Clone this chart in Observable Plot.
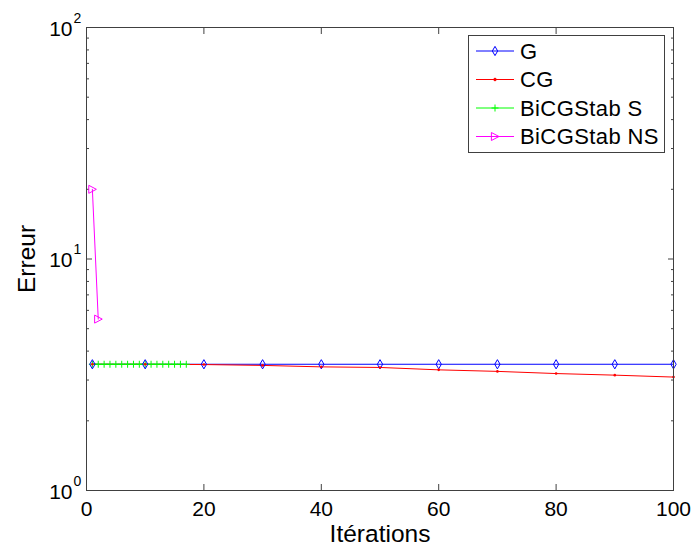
<!DOCTYPE html>
<html>
<head>
<meta charset="utf-8">
<script src="https://cdn.jsdelivr.net/npm/d3@7"></script>
<script src="https://cdn.jsdelivr.net/npm/@observablehq/plot@0.6"></script>
<style>
  html, body { margin: 0; padding: 0; background: #fff; }
  svg { font-family: "Liberation Sans", Arial, sans-serif; }
</style>
</head>
<body>
<div id="chart"></div>
<script>
// ---- data ----
const seriesNames = ["G", "CG", "BiCGStab S", "BiCGStab NS"];
const seriesColors = ["#0000ff", "#ff0000", "#00ff00", "#ff00ff"];

const gIter = [1, 10, 20, 30, 40, 50, 60, 70, 80, 90, 100];
const gErr  = [3.51, 3.51, 3.51, 3.51, 3.51, 3.51, 3.51, 3.51, 3.51, 3.51, 3.51];

const cgIter = [1, 10, 20, 30, 40, 50, 60, 70, 80, 90, 100];
const cgErr  = [3.51, 3.51, 3.50, 3.47, 3.42, 3.40, 3.32, 3.27, 3.20, 3.15, 3.09];

const bsIter = [1, 2, 3, 4, 5, 6, 7, 8, 9, 10, 11, 12, 13, 14, 15, 16, 17];
const bsErr  = [3.51, 3.51, 3.51, 3.51, 3.51, 3.51, 3.51, 3.51, 3.51, 3.51, 3.51, 3.51, 3.51, 3.51, 3.51, 3.51, 3.51];

const bnsIter = [1, 2];
const bnsErr  = [20.0, 5.5];

const xTicks = [0, 20, 40, 60, 80, 100];
const yMajor = [1, 10, 100];
const yExp = ["0", "1", "2"];
const yMinor = [2, 3, 4, 5, 6, 7, 8, 9, 20, 30, 40, 50, 60, 70, 80, 90];

const xLabel = "Itérations";
const yLabel = "Erreur";

// ---- tables ----
const toRows = (xs, ys) => xs.map((x, i) => ({x, y: ys[i]}));
const gData = toRows(gIter, gErr);
const cgData = toRows(cgIter, cgErr);
const bsData = toRows(bsIter, bsErr);
const bnsData = toRows(bnsIter, bnsErr);

// ---- custom symbols ----
const triRight = {
  draw(ctx, size) {
    const s = Math.sqrt(size / Math.PI);
    ctx.moveTo(s, 0);
    ctx.lineTo(-s * 0.9, -s);
    ctx.lineTo(-s * 0.9, s);
    ctx.closePath();
  }
};
const plusSym = {
  draw(ctx, size) {
    const s = Math.sqrt(size / Math.PI);
    ctx.moveTo(0, -s); ctx.lineTo(0, s);
    ctx.moveTo(-s, 0); ctx.lineTo(s, 0);
  }
};
const legendSymbols = [
  {type: d3.symbolDiamond, r: 2.8, fill: "none"},
  {type: d3.symbolCircle, r: 1.3, fill: "fill"},
  {type: plusSym, r: 3.5, fill: "none"},
  {type: triRight, r: 4, fill: "none"}
];

const W = 696, H = 547;
const mL = 86, mR = 23, mT = 27, mB = 57;
const axisColor = "#404040";

function legendMark(index, scales, values, dims) {
  const g = d3.create("svg:g");
  const bw = 196, bh = 117;
  const bx = dims.width - dims.marginRight - 9 - bw;
  const by = dims.marginTop + 8;
  g.append("rect").attr("x", bx + 0.5).attr("y", by + 0.5).attr("width", bw).attr("height", bh)
    .attr("fill", "white").attr("stroke", axisColor).attr("stroke-width", 1);
  seriesNames.forEach((name, i) => {
    const cy = by + 16 + i * 28.5;
    const c = seriesColors[i];
    g.append("line").attr("x1", bx + 8).attr("x2", bx + 46).attr("y1", cy).attr("y2", cy)
      .attr("stroke", c).attr("stroke-width", 1);
    const s = legendSymbols[i];
    g.append("path").attr("d", d3.symbol(s.type, s.r * s.r * Math.PI)())
      .attr("transform", `translate(${bx + 27},${cy})`)
      .attr("fill", s.fill === "fill" ? c : "none").attr("stroke", c).attr("stroke-width", 1);
    g.append("text").attr("x", bx + 52).attr("y", cy).attr("dy", "0.36em")
      .attr("text-anchor", "start")
      .attr("font-size", 22).attr("letter-spacing", "0.4px")
      .attr("fill", "black").text(name);
  });
  return g.node();
}

const chart = Plot.plot({
  width: W, height: H,
  marginLeft: mL, marginRight: mR, marginTop: mT, marginBottom: mB,
  style: {fontFamily: '"Liberation Sans", Arial, sans-serif', fontSize: "21px", color: "black", background: "white", overflow: "visible"},
  x: {domain: [0, 100], axis: null},
  y: {type: "log", domain: [1, 100], axis: null},
  marks: [
    // ticks (inward)
    Plot.axisX(xTicks, {anchor: "bottom", tickSize: -6, tickFormat: () => "", label: null, stroke: axisColor}),
    Plot.axisX(xTicks, {anchor: "top", tickSize: -6, tickFormat: () => "", label: null, stroke: axisColor}),
    Plot.axisY(yMajor, {anchor: "left", tickSize: -6, tickFormat: () => "", label: null, stroke: axisColor}),
    Plot.axisY(yMajor, {anchor: "right", tickSize: -6, tickFormat: () => "", label: null, stroke: axisColor}),
    Plot.axisY(yMinor, {anchor: "left", tickSize: -3, tickFormat: () => "", label: null, stroke: axisColor}),
    Plot.axisY(yMinor, {anchor: "right", tickSize: -3, tickFormat: () => "", label: null, stroke: axisColor}),
    // series
    Plot.line(gData, {x: "x", y: "y", stroke: seriesColors[0], strokeWidth: 1}),
    Plot.line(cgData, {x: "x", y: "y", stroke: seriesColors[1], strokeWidth: 1}),
    Plot.line(bsData, {x: "x", y: "y", stroke: seriesColors[2], strokeWidth: 1}),
    Plot.line(bnsData, {x: "x", y: "y", stroke: seriesColors[3], strokeWidth: 1}),
    Plot.dot(bsData, {x: "x", y: "y", symbol: plusSym, r: 3.5, stroke: seriesColors[2], fill: "none", strokeWidth: 1}),
    Plot.dot(gData, {x: "x", y: "y", symbol: "diamond", r: 2.8, stroke: seriesColors[0], fill: "none", strokeWidth: 1}),
    Plot.dot(cgData, {x: "x", y: "y", r: 1.3, fill: seriesColors[1], stroke: null}),
    Plot.dot(bnsData, {x: "x", y: "y", symbol: triRight, r: 4, stroke: seriesColors[3], fill: "none", strokeWidth: 1}),
    // frame
    Plot.frame({stroke: axisColor, strokeWidth: 1}),
    // tick labels
    Plot.text(xTicks, {x: d => d, frameAnchor: "bottom", text: d => String(d), lineAnchor: "bottom", dy: 25, fontSize: 21, fill: "black"}),
    Plot.text(yMajor, {y: d => d, frameAnchor: "left", text: () => "10", textAnchor: "end", lineAnchor: "bottom", dx: -14, dy: 8, fontSize: 21, fill: "black"}),
    Plot.text(yMajor, {y: d => d, frameAnchor: "left", text: (d, i) => yExp[i], textAnchor: "start", lineAnchor: "bottom", dx: -13, dy: -5, fontSize: 14, fill: "black"}),
    // axis labels
    Plot.text([xLabel], {frameAnchor: "bottom", text: d => d, textAnchor: "middle", lineAnchor: "bottom", dy: 51, fontSize: 24.5, fill: "black"}),
    Plot.text([yLabel], {frameAnchor: "left", text: d => d, rotate: -90, textAnchor: "middle", lineAnchor: "bottom", dx: -52, fontSize: 24.5, fill: "black"}),
    // legend
    legendMark
  ]
});
document.getElementById("chart").appendChild(chart);
</script>
</body>
</html>
